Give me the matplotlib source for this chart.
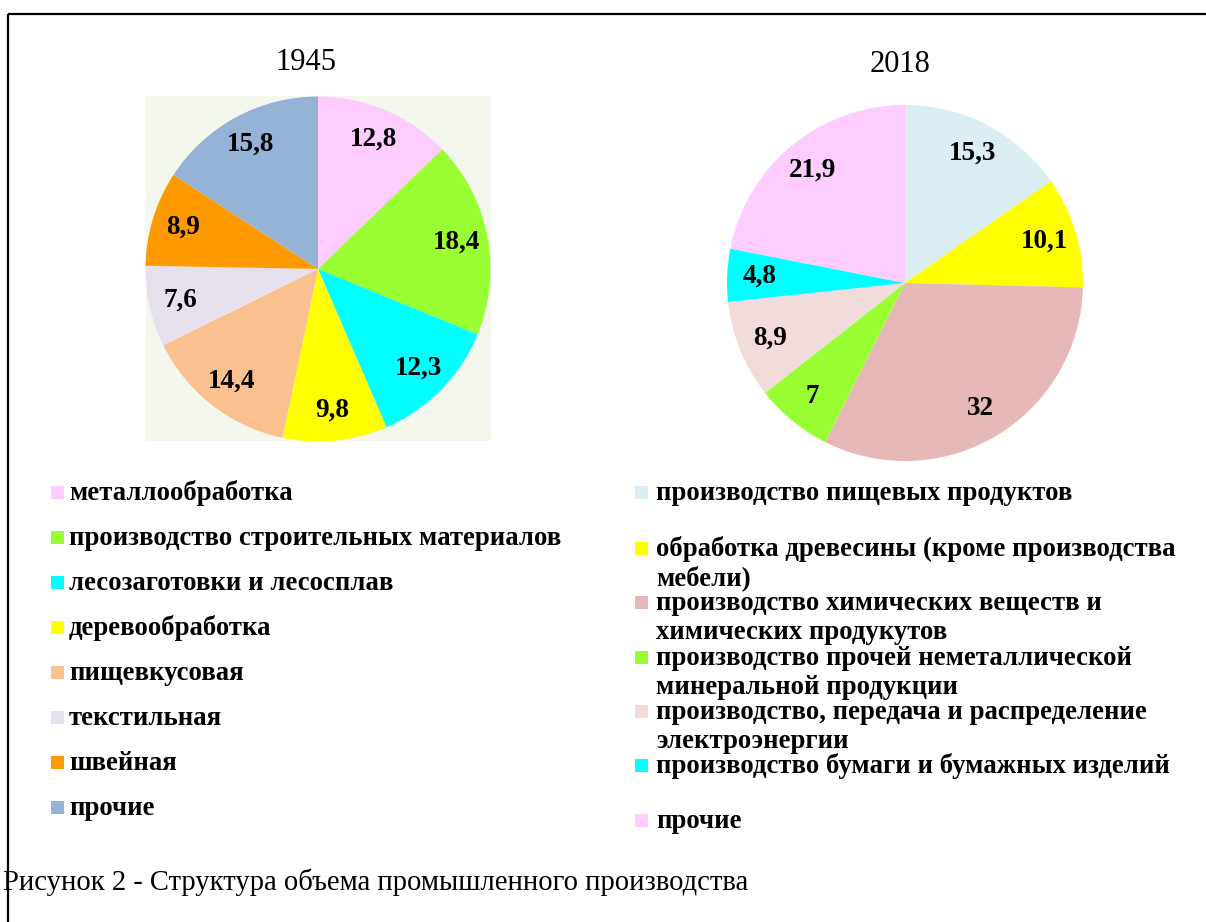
import matplotlib
matplotlib.use("Agg")
import matplotlib.pyplot as plt
from matplotlib.patches import Rectangle

plt.rcParams['font.family'] = ['Liberation Serif', 'DejaVu Serif']

# 1945 structure
years = ["1945", "2018"]
labels_1945 = ["металлообработка", "производство строительных материалов",
               "лесозаготовки и лесосплав", "деревообработка", "пищевкусовая",
               "текстильная", "швейная", "прочие"]
values_1945 = [12.8, 18.4, 12.3, 9.8, 14.4, 7.6, 8.9, 15.8]
colors_1945 = ["#FFCCFF", "#99FF33", "#00FFFF", "#FFFF00", "#FAC090",
               "#E6E0EC", "#FF9900", "#95B3D7"]

# 2018 structure
labels_2018 = ["производство пищевых продуктов",
               "обработка древесины (кроме производства\nмебели)",
               "производство химических веществ и\nхимических продукутов",
               "производство прочей неметаллической\nминеральной продукции",
               "производство, передача и распределение\nэлектроэнергии",
               "производство бумаги и бумажных изделий",
               "прочие"]
values_2018 = [15.3, 10.1, 32, 7, 8.9, 4.8, 21.9]
colors_2018 = ["#DBEEF4", "#FFFF00", "#E6B9B8", "#99FF33", "#F2DCDB",
               "#00FFFF", "#FFCCFF"]

caption = "Рисунок 2 - Структура объема промышленного производства"

W, H = 1206, 922
fig = plt.figure(figsize=(W / 100, H / 100), dpi=100)


def fmt(v):
    return f"{v:g}".replace(".", ",")


def pie_axes(cx, cy, r):
    return fig.add_axes([(cx - r) / W, 1 - (cy + r) / H, 2 * r / W, 2 * r / H])


def draw_pie(ax, values, colors):
    wedges, texts = ax.pie(values, colors=colors, startangle=90, counterclock=False,
                           radius=1, labels=[fmt(v) for v in values],
                           labeldistance=0.82,
                           wedgeprops=dict(linewidth=0),
                           textprops=dict(fontsize=19.5, fontweight='bold'))
    for t in texts:
        t.set_ha('center')
        t.set_va('center')
    ax.set_xlim(-1, 1)
    ax.set_ylim(-1, 1)
    ax.set_aspect('equal')
    ax.set_xticks([])
    ax.set_yticks([])


ax1 = pie_axes(318, 269, 172.5)
draw_pie(ax1, values_1945, colors_1945)
ax1.set_frame_on(True)
ax1.set_facecolor("#F4F7EE")
for s in ax1.spines.values():
    s.set_visible(False)

ax2 = pie_axes(905, 283, 178)
draw_pie(ax2, values_2018, colors_2018)

# overlay in pixel coordinates for frame, titles, legends and caption
ov = fig.add_axes([0, 0, 1, 1], zorder=-1)
ov.set_xlim(0, W)
ov.set_ylim(H, 0)
ov.axis('off')

ov.plot([8, W], [14, 14], color='black', lw=1.6, solid_capstyle='butt')
ov.plot([8, 8], [14, H], color='black', lw=1.6, solid_capstyle='butt')

ov.text(306, 62, years[0], fontsize=22, ha='center', va='center')
ov.text(900, 65, years[1], fontsize=22, ha='center', va='center')

# legend 1945
leg_fs = 19.3
y0, dy = 493, 45
for i, (lab, col) in enumerate(zip(labels_1945, colors_1945)):
    y = y0 + i * dy
    ov.add_patch(Rectangle((51, y - 7), 13, 13, color=col, lw=0))
    ov.text(69, y, lab, fontsize=leg_fs, fontweight='bold', ha='left', va='center')

# legend 2018
rows_2018 = [493, 549, 603, 658, 712, 766, 821]
line_h = 29.5
for lab, col, y in zip(labels_2018, colors_2018, rows_2018):
    ov.add_patch(Rectangle((635, y - 7), 13, 13, color=col, lw=0))
    for k, line in enumerate(lab.split("\n")):
        ov.text(656, y + k * line_h, line, fontsize=leg_fs, fontweight='bold',
                ha='left', va='center')

ov.text(3, 882, caption, fontsize=20.6, ha='left', va='center')

fig.savefig("out.png", dpi=100)
